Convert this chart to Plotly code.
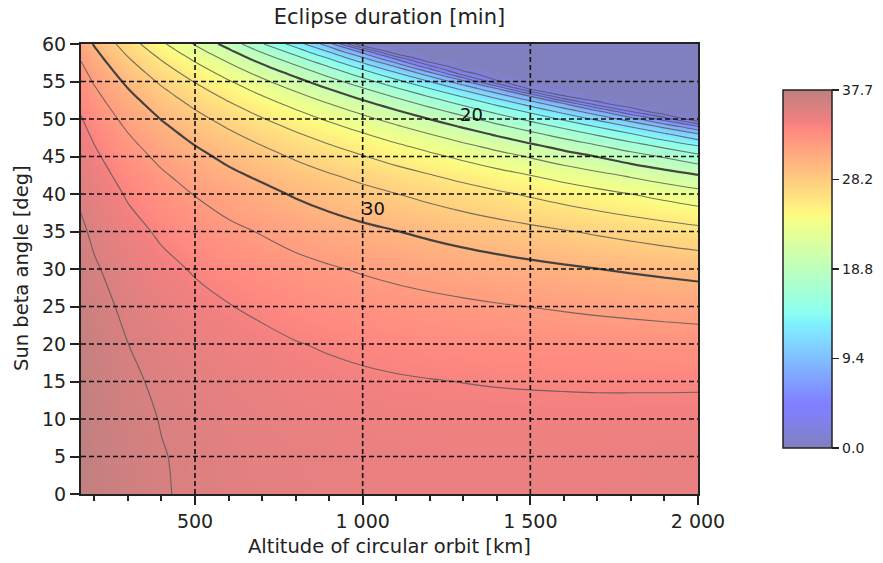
import numpy as np
import plotly.graph_objects as go

# ---------------- data (read/estimated from the reference) ----------------
altitude_km = [160, 200, 300, 400, 500, 600, 800, 900, 1000, 1100, 1200,
               1300, 1400, 1500, 1600, 1700, 1800, 1900, 2000]
beta_deg = [0, 5, 10, 15, 20, 25, 30, 35, 40, 42.5, 45, 46.5, 48, 49, 50,
            51, 52, 53, 54, 55, 56, 57, 58, 59, 60]

# eclipse duration [min] along beta for each altitude column
d160 = [37.66, 37.63, 37.56, 37.43, 37.25, 37.00, 36.68, 36.26, 35.72, 35.39, 35.02, 34.77, 34.50, 34.30, 34.10, 33.88, 33.65, 33.40, 33.14, 32.86, 32.56, 32.24, 31.90, 31.53, 31.13]
d200 = [37.28, 37.26, 37.17, 37.03, 36.83, 36.55, 36.18, 35.70, 35.09, 34.72, 34.29, 34.01, 33.70, 33.48, 33.25, 33.00, 32.73, 32.45, 32.15, 31.83, 31.49, 31.12, 30.72, 30.30, 29.84]
d300 = [36.59, 36.56, 36.45, 36.27, 36.01, 35.66, 35.20, 34.59, 33.81, 33.34, 32.80, 32.43, 32.04, 31.75, 31.45, 31.13, 30.79, 30.42, 30.03, 29.61, 29.16, 28.68, 28.16, 27.59, 26.98]
d400 = [36.11, 36.07, 35.94, 35.73, 35.42, 35.00, 34.45, 33.73, 32.80, 32.23, 31.57, 31.13, 30.65, 30.31, 29.94, 29.55, 29.13, 28.68, 28.20, 27.68, 27.13, 26.52, 25.87, 25.15, 24.37]
d500 = [35.75, 35.71, 35.56, 35.32, 34.97, 34.48, 33.85, 33.01, 31.93, 31.27, 30.51, 29.99, 29.43, 29.02, 28.59, 28.12, 27.63, 27.09, 26.52, 25.89, 25.22, 24.49, 23.69, 22.80, 21.83]
d600 = [35.49, 35.43, 35.28, 35.00, 34.60, 34.06, 33.34, 32.40, 31.17, 30.41, 29.54, 28.95, 28.30, 27.83, 27.32, 26.78, 26.20, 25.58, 24.90, 24.16, 23.36, 22.48, 21.51, 20.43, 19.21]
d800 = [35.13, 35.07, 34.88, 34.54, 34.06, 33.39, 32.51, 31.35, 29.82, 28.87, 27.77, 27.01, 26.18, 25.57, 24.91, 24.21, 23.44, 22.60, 21.68, 20.67, 19.54, 18.27, 16.83, 15.15, 13.13]
d900 = [35.02, 34.95, 34.74, 34.38, 33.85, 33.12, 32.16, 30.89, 29.20, 28.15, 26.93, 26.08, 25.15, 24.46, 23.72, 22.92, 22.04, 21.07, 20.00, 18.81, 17.46, 15.92, 14.09, 11.86, 8.90]
d1000 = [34.93, 34.86, 34.63, 34.24, 33.67, 32.89, 31.84, 30.45, 28.61, 27.46, 26.10, 25.16, 24.12, 23.35, 22.51, 21.60, 20.59, 19.48, 18.23, 16.81, 15.17, 13.21, 10.77, 7.34, 0]
d1100 = [34.88, 34.80, 34.55, 34.13, 33.52, 32.67, 31.54, 30.04, 28.03, 26.77, 25.27, 24.24, 23.07, 22.21, 21.27, 20.23, 19.07, 17.78, 16.30, 14.58, 12.51, 9.86, 5.88, 0, 0]
d1200 = [34.84, 34.76, 34.49, 34.05, 33.39, 32.48, 31.26, 29.64, 27.46, 26.08, 24.44, 23.30, 22.00, 21.03, 19.97, 18.78, 17.44, 15.92, 14.14, 11.97, 9.15, 4.54, 0, 0, 0]
d1300 = [34.82, 34.73, 34.45, 33.98, 33.27, 32.30, 30.99, 29.25, 26.89, 25.40, 23.60, 22.33, 20.89, 19.80, 18.59, 17.23, 15.67, 13.84, 11.60, 8.63, 3.33, 0, 0, 0, 0]
d1400 = [34.82, 34.72, 34.43, 33.92, 33.17, 32.13, 30.74, 28.87, 26.33, 24.70, 22.73, 21.33, 19.72, 18.49, 17.11, 15.53, 13.66, 11.38, 8.32, 2.36, 0, 0, 0, 0, 0]
d1500 = [34.83, 34.73, 34.42, 33.88, 33.08, 31.98, 30.50, 28.50, 25.76, 23.99, 21.84, 20.29, 18.48, 17.09, 15.50, 13.62, 11.31, 8.21, 1.92, 0, 0, 0, 0, 0, 0]
d1600 = [34.85, 34.75, 34.41, 33.85, 33.00, 31.84, 30.26, 28.12, 25.18, 23.26, 20.90, 19.19, 17.16, 15.56, 13.68, 11.38, 8.30, 2.26, 0, 0, 0, 0, 0, 0, 0]
d1700 = [34.89, 34.77, 34.42, 33.82, 32.93, 31.70, 30.02, 27.75, 24.60, 22.52, 19.93, 18.02, 15.71, 13.85, 11.58, 8.56, 3.07, 0, 0, 0, 0, 0, 0, 0, 0]
d1800 = [34.93, 34.81, 34.44, 33.81, 32.87, 31.57, 29.79, 27.38, 23.99, 21.74, 18.89, 16.76, 14.11, 11.88, 8.97, 4.07, 0, 0, 0, 0, 0, 0, 0, 0, 0]
d1900 = [34.98, 34.85, 34.47, 33.80, 32.82, 31.44, 29.57, 27.00, 23.37, 20.93, 17.80, 15.39, 12.28, 9.49, 5.12, 0, 0, 0, 0, 0, 0, 0, 0, 0, 0]
d2000 = [35.03, 34.90, 34.50, 33.80, 32.76, 31.32, 29.34, 26.62, 22.73, 20.08, 16.61, 13.86, 10.10, 6.18, 0, 0, 0, 0, 0, 0, 0, 0, 0, 0, 0]

duration_max = 37.66

contour_labels = ["30", "20"]

x_tick_vals = [500, 1000, 1500, 2000]
x_tick_text = ["500", "1 000", "1 500", "2 000"]
x_minor_vals = [200, 300, 400, 600, 700, 800, 900, 1100, 1200, 1300, 1400,
                1600, 1700, 1800, 1900]
y_tick_vals = [0, 5, 10, 15, 20, 25, 30, 35, 40, 45, 50, 55, 60]
x_grid_vals = [500, 1000, 1500]
y_grid_vals = [5, 10, 15, 20, 25, 30, 35, 40, 45, 50, 55]
cbar_tick_vals = [0, 9.415, 18.83, 28.245, 37.66]
cbar_tick_text = ["0.0", "9.4", "18.8", "28.2", "37.7"]

# ---------------- figure ----------------
z = np.array([d160, d200, d300, d400, d500, d600, d800, d900, d1000, d1100,
              d1200, d1300, d1400, d1500, d1600, d1700, d1800, d1900,
              d2000]).T

# matplotlib "jet" blended 50% with white
jet_alpha = [
    [0.0, "rgb(128,128,191)"], [0.11, "rgb(128,128,255)"],
    [0.125, "rgb(128,128,255)"], [0.34, "rgb(128,237,255)"],
    [0.35, "rgb(128,242,251)"], [0.375, "rgb(138,255,241)"],
    [0.64, "rgb(247,255,132)"], [0.65, "rgb(251,250,128)"],
    [0.66, "rgb(255,246,128)"], [0.89, "rgb(255,137,128)"],
    [0.91, "rgb(243,128,128)"], [1.0, "rgb(191,128,128)"],
]

TXT = "#222222"
FONT = "DejaVu Sans"

fig = go.Figure()
fig.add_trace(go.Heatmap(
    x=altitude_km, y=beta_deg, z=z, zsmooth="best",
    colorscale=jet_alpha, zmin=0, zmax=duration_max, hoverinfo="skip",
    colorbar=dict(
        thickness=49, thicknessmode="pixels", len=358, lenmode="pixels",
        x=(783 - 81) / 617, xanchor="left", y=0.5, yanchor="middle",
        xpad=0, ypad=0, outlinewidth=1.5, outlinecolor=TXT,
        ticks="outside", ticklen=7, tickwidth=1.5, tickcolor=TXT,
        tickmode="array", tickvals=cbar_tick_vals, ticktext=cbar_tick_text,
        tickfont=dict(size=14, color=TXT, family=FONT),
    ),
))
fig.add_trace(go.Contour(
    x=altitude_km, y=beta_deg, z=z, showscale=False, hoverinfo="skip",
    autocontour=False,
    contours=dict(start=2, end=36, size=2, coloring="none"),
    line=dict(color="rgba(85,85,85,0.8)", width=1.1, smoothing=1.0),
))
fig.add_trace(go.Contour(
    x=altitude_km, y=beta_deg, z=z, showscale=False, hoverinfo="skip",
    autocontour=False,
    contours=dict(start=20, end=30, size=10, coloring="none"),
    line=dict(color="rgba(60,60,60,0.9)", width=2.2, smoothing=1.0),
))

shapes = []
for xv in x_grid_vals:
    shapes.append(dict(type="line", xref="x", yref="paper", x0=xv, x1=xv,
                       y0=0, y1=1, layer="above",
                       line=dict(color="#111111", width=1.6, dash="5px,3px")))
for yv in y_grid_vals:
    shapes.append(dict(type="line", xref="paper", yref="y", x0=0, x1=1,
                       y0=yv, y1=yv, layer="above",
                       line=dict(color="#111111", width=1.6, dash="5px,3px")))

annotations = [
    dict(text="Altitude of circular orbit [km]", xref="paper", yref="paper",
         x=0.5, y=(494 - 546) / 450, xanchor="center", yanchor="middle",
         showarrow=False, font=dict(size=19.5, color=TXT, family=FONT)),
    dict(text="Sun beta angle [deg]", xref="paper", yref="paper",
         x=(21 - 81) / 617, y=(494 - 268) / 450, xanchor="center",
         yanchor="middle", textangle=-90, showarrow=False,
         font=dict(size=19.5, color=TXT, family=FONT)),
    # inline contour labels
    dict(text=contour_labels[0], x=1031, y=38.1, xref="x", yref="y",
         showarrow=False, xanchor="center", yanchor="middle",
         font=dict(size=18, color="#111111", family=FONT)),
    dict(text=contour_labels[1], x=1326, y=50.6, xref="x", yref="y",
         showarrow=False, xanchor="center", yanchor="middle",
         font=dict(size=18, color="#111111", family=FONT)),
]

fig.update_layout(
    width=883, height=563,
    margin=dict(l=81, r=185, t=44, b=69, autoexpand=False),
    paper_bgcolor="white", plot_bgcolor="white",
    font=dict(family=FONT, color=TXT),
    showlegend=False,
    title=dict(text="Eclipse duration [min]", x=0.5, xref="paper",
               y=1 - 17 / 563, yref="container", yanchor="middle",
               xanchor="center", font=dict(size=21, color=TXT, family=FONT)),
    shapes=shapes,
    annotations=annotations,
)
fig.update_xaxes(
    range=[160, 2000], tickmode="array", tickvals=x_tick_vals,
    ticktext=x_tick_text, ticks="outside", ticklen=9, tickwidth=2,
    tickcolor=TXT, showline=True, linewidth=2, linecolor=TXT, mirror=True,
    showgrid=False, zeroline=False, layer="above traces", automargin=False,
    tickfont=dict(size=19, color=TXT, family=FONT),
    minor=dict(tickmode="array", tickvals=x_minor_vals, ticks="outside",
               ticklen=5, tickwidth=2, tickcolor=TXT, showgrid=False),
)
fig.update_yaxes(
    range=[0, 60], tickmode="array", tickvals=y_tick_vals, ticks="outside",
    ticklen=9, tickwidth=2, tickcolor=TXT, showline=True, linewidth=2,
    linecolor=TXT, mirror=True, showgrid=False, zeroline=False,
    layer="above traces", automargin=False,
    tickfont=dict(size=19, color=TXT, family=FONT),
)

fig.write_html(
    "out.html",
    config={"displayModeBar": False, "staticPlot": True},
    post_script="document.body.style.margin='0px';"
                "document.body.style.padding='0px';",
)
